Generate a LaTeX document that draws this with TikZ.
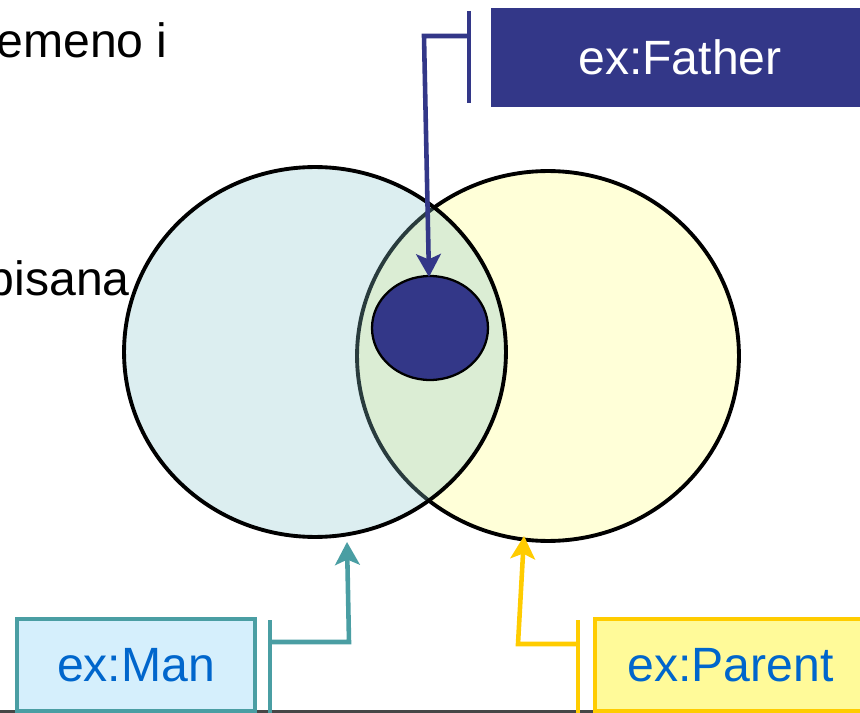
\documentclass[tikz,border=0pt]{standalone}
\usepackage{fontspec}
\setmainfont{Liberation Sans}
\usetikzlibrary{shapes.geometric,arrows.meta}
\definecolor{fatherblue}{RGB}{51,55,136}
\definecolor{manteal}{RGB}{74,158,163}
\definecolor{manfill}{RGB}{213,239,252}
\definecolor{parentgold}{RGB}{255,204,0}
\definecolor{parentfill}{RGB}{255,250,153}
\definecolor{labelblue}{RGB}{0,102,204}
\definecolor{circcyan}{RGB}{138,198,205}
\definecolor{circyellow}{RGB}{255,255,216}
\tikzset{
  bigtext/.style={font=\fontsize{27.4}{31}\selectfont},
  setcirc/.style={ellipse, draw=black, line width=2.2pt, inner sep=0pt, minimum width=7.64cm, minimum height=7.4cm},
  labelbox/.style={rectangle, line width=2.6pt, inner sep=0pt, minimum height=1.84cm, bigtext, text=labelblue},
  conn/.style={line width=2.6pt, -{Stealth[length=13pt, width=14pt, inset=3pt]}},
  bar/.style={line width=2.6pt}
}
\begin{document}
\begin{tikzpicture}[x=0.02cm, y=-0.02cm]
\useasboundingbox (0,0) rectangle (860,713);
\clip (0,0) rectangle (860,713);
% bottom edge line
\draw[line width=1.2pt, draw={rgb,255:red,70;green,70;blue,70}] (0,711.5) -- (860,711.5);
% sets
\node[setcirc, fill=circyellow] (parentcirc) at (548,356) {};
\node[setcirc, fill=circcyan, fill opacity=0.3] (mancirc) at (315,352) {};
\node[ellipse, draw=black, line width=1.3pt, fill=fatherblue, inner sep=0pt, minimum width=2.32cm, minimum height=2.08cm] (fathercirc) at (430,328) {};
% background slide text
\node[bigtext, anchor=base east, inner sep=0pt] (txta) at (168,58) {emeno i};
\node[bigtext, anchor=base east, inner sep=0pt] (txtb) at (130,296) {bisana};
% label boxes
\node[rectangle, fill=fatherblue, draw=fatherblue, inner sep=0pt, minimum width=7.56cm, minimum height=1.96cm, bigtext, text=white] (father) at (680,57) {ex:Father};
\node[labelbox, draw=manteal, fill=manfill, minimum width=4.76cm] (man) at (136,665) {ex:Man};
\node[labelbox, draw=parentgold, fill=parentfill, minimum width=5.42cm] (parent) at (730.5,665) {ex:Parent};
% connector points
\coordinate (fbarT) at (469,11);
\coordinate (fbarB) at (469,103);
\coordinate (fbarM) at (469,36);
\coordinate (fcorner) at (424,36);
\coordinate (ftip) at (429,277);
\coordinate (mbarT) at (270,620);
\coordinate (mbarB) at (270,713);
\coordinate (mbarM) at (270,642);
\coordinate (mcorner) at (349,642);
\coordinate (mtip) at (347,542);
\coordinate (pbarT) at (578,620);
\coordinate (pbarB) at (578,713);
\coordinate (pbarM) at (578,644);
\coordinate (pcorner) at (518,644);
\coordinate (ptip) at (524,536);
% connectors
\draw[bar, fatherblue] (fbarT) -- (fbarB);
\draw[conn, fatherblue] (fbarM) -- (fcorner) -- (ftip);
\draw[bar, manteal] (mbarT) -- (mbarB);
\draw[conn, manteal] (mbarM) -- (mcorner) -- (mtip);
\draw[bar, parentgold] (pbarT) -- (pbarB);
\draw[conn, parentgold] (pbarM) -- (pcorner) -- (ptip);
\end{tikzpicture}
\end{document}
